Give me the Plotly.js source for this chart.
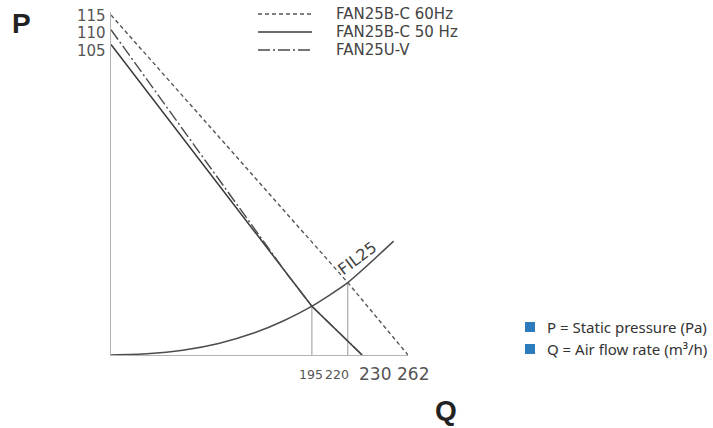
<!DOCTYPE html>
<html><head><meta charset="utf-8">
<script src="https://cdn.plot.ly/plotly-3.0.1.min.js"></script>
<style>html,body{margin:0;padding:0;background:#fff;} #chart{width:713px;height:428px;}</style>
</head><body><div id="chart"></div>
<script>
// ---- data (read from the schematic) ----
const seriesNames = ['FAN25B-C 60Hz', 'FAN25B-C 50 Hz', 'FAN25U-V'];
const fan60Q = [55, 220, 262];
const fan60P = [115, 24.5, 0];
const fan50Q = [55, 195, 230];
const fan50P = [105, 16.5, 0];
const fanUQ = [55, 178, 195, 230];
const fanUP = [110, 27.2, 16.5, 0];
const filName = 'FIL25';
const filQ = [55, 80, 105, 130, 155, 175, 195, 220, 252];
const filP = [0, 0.4, 1.6, 3.9, 7.5, 11.5, 16.5, 24.5, 38.5];
const workQ = [195, 220];
const workP = [16.5, 24.5];
const qTickVals = [195, 220, 230, 262];
const pTickVals = [115, 110, 105];
const axisNames = ['P', 'Q'];
const noteTexts = ['P = Static pressure (Pa)', 'Q = Air flow rate (m³/h)'];

// ---- layout geometry ----
const W = 713, H = 428, L = 111, T = 12, PW = 297, PH = 343;
const px = v => (v - L) / PW;
const py = v => (T + PH - v) / PH;
const FONT = 'DejaVu Sans, sans-serif';
const BOLD = 'Liberation Sans, Arial, sans-serif';

const lineStyles = [
  {color: '#555', width: 1.4, dash: '4px,3px'},
  {color: '#3a3a3a', width: 1.5, dash: 'solid'},
  {color: '#4a4a4a', width: 1.4, dash: '12px,3px,2px,3px'}
];

const traces = [];
workQ.forEach((q, i) => traces.push({
  x: [q, q], y: [0, workP[i]], mode: 'lines', showlegend: false, hoverinfo: 'skip',
  line: {color: '#ababab', width: 1.2}
}));
traces.push({x: filQ, y: filP, mode: 'lines', name: filName, showlegend: false,
  line: {color: '#4d4d4d', width: 1.5, shape: 'spline', smoothing: 0.6}});
const fanQ = [fan60Q, fan50Q, fanUQ], fanP = [fan60P, fan50P, fanUP];
fanQ.forEach((q, i) => traces.push({x: q, y: fanP[i], mode: 'lines', name: seriesNames[i],
  showlegend: false, line: lineStyles[i]}));

// x tick labels (schematic: two small, two large)
const qTickStyle = [
  {size: 12.5, xanchor: 'center', xshift: -1},
  {size: 12.5, xanchor: 'right', xshift: 3},
  {size: 17, xanchor: 'left', xshift: -5},
  {size: 17, xanchor: 'center', xshift: 5}
];
const annotations = qTickVals.map((q, i) => ({
  x: q, xref: 'x', y: 0, yref: 'paper', yanchor: 'middle', yshift: -19,
  xanchor: qTickStyle[i].xanchor, xshift: qTickStyle[i].xshift, showarrow: false,
  text: String(q), font: {family: FONT, size: qTickStyle[i].size, color: '#555'}
}));
// P tick labels, stacked like the original
const pTickShift = [-1, -3, -6];
pTickVals.forEach((p, i) => annotations.push({
  x: 0, xref: 'paper', xanchor: 'right', xshift: -3, y: p, yref: 'y', yanchor: 'middle',
  yshift: pTickShift[i], showarrow: false, text: String(p),
  font: {family: FONT, size: 15, color: '#555'}
}));
annotations.push({x: 226.5, y: 32.5, xref: 'x', yref: 'y', text: filName, showarrow: false,
  xanchor: 'center', yanchor: 'middle',
  textangle: -37, font: {family: FONT, size: 16, color: '#444'}});
annotations.push({x: px(21), y: py(24), xref: 'paper', yref: 'paper', text: '<b>' + axisNames[0] + '</b>',
  xanchor: 'center', yanchor: 'middle',
  showarrow: false, font: {family: BOLD, size: 28, color: '#222'}});
annotations.push({x: px(446), y: py(410), xref: 'paper', yref: 'paper', text: '<b>' + axisNames[1] + '</b>',
  xanchor: 'center', yanchor: 'middle',
  showarrow: false, font: {family: BOLD, size: 28, color: '#222'}});

const shapes = [];
const legRows = [14, 32, 50];
seriesNames.forEach((n, i) => {
  shapes.push({type: 'line', xref: 'paper', yref: 'paper', x0: px(258), x1: px(312),
    y0: py(legRows[i]), y1: py(legRows[i]), line: lineStyles[i]});
  annotations.push({x: px(334), y: py(legRows[i]), xref: 'paper', yref: 'paper', xanchor: 'left',
    yanchor: 'middle', showarrow: false, text: n, font: {family: FONT, size: 15, color: '#444'}});
});
const noteRows = [327, 349];
noteTexts.forEach((t, i) => {
  shapes.push({type: 'rect', xref: 'paper', yref: 'paper', x0: px(525), x1: px(535),
    y0: py(noteRows[i] - 5), y1: py(noteRows[i] + 5), line: {width: 0}, fillcolor: '#2b7bbd'});
  annotations.push({x: px(545), y: py(noteRows[i]), xref: 'paper', yref: 'paper', xanchor: 'left',
    yanchor: 'middle', showarrow: false, text: t,
    font: {family: 'Noto Sans, sans-serif', size: 15, color: '#333'}});
});

const layout = {
  width: W, height: H, margin: {l: L, r: W - L - PW, t: T, b: H - T - PH, pad: 0},
  paper_bgcolor: '#fff', plot_bgcolor: '#fff', showlegend: false,
  xaxis: {range: [55, 262], showline: true, linecolor: '#b3b3b3', linewidth: 1.2,
    showgrid: false, zeroline: false, showticklabels: false, ticks: '', fixedrange: true},
  yaxis: {range: [0, 116], showline: true, linecolor: '#b3b3b3', linewidth: 1.2,
    showgrid: false, zeroline: false, ticks: '', showticklabels: false, fixedrange: true},
  annotations: annotations, shapes: shapes
};
Plotly.newPlot('chart', traces, layout, {staticPlot: true, displayModeBar: false});
</script></body></html>
